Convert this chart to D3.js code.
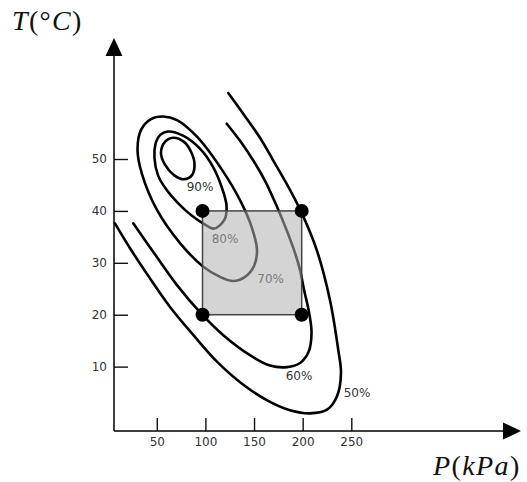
<!DOCTYPE html>
<html>
<head>
<meta charset="utf-8">
<script src="https://cdn.jsdelivr.net/npm/d3@7"></script>
<style>
  html, body { margin: 0; padding: 0; background: #fff; }
  svg { display: block; }
</style>
</head>
<body>
<svg id="chart" width="527" height="482"></svg>
<script>
// Efficiency contours over pressure P (kPa) and temperature T (°C).
const levels = ["90%", "80%", "70%", "60%", "50%"];
const closed = [true, true, true, false, false];

// Outline of each contour as [P, T] pairs
const contour90 = [[66.7,54.1],[78.0,53.3],[85.2,51.4],[88.8,49.0],[86.2,46.9],[78.0,46.1],[67.7,46.9],[58.4,48.9],[54.3,51.2],[58.4,53.3]];
const contour80 = [[61.5,55.3],[77.0,54.5],[94.4,52.0],[107.8,48.5],[117.1,44.4],[121.7,41.0],[119.6,38.3],[108.8,36.6],[97.5,37.6],[85.2,39.2],[71.8,41.5],[59.5,44.2],[51.2,46.9],[47.6,50.2],[48.7,52.9],[53.3,54.6]];
const contour70 = [[56.4,58.2],[70.8,57.5],[91.3,54.3],[117.1,47.9],[136.6,41.7],[147.9,36.7],[153.0,32.5],[150.0,29.4],[140.7,27.3],[128.4,26.5],[115.0,27.3],[97.5,29.3],[73.9,33.8],[50.2,40.2],[34.8,47.1],[30.2,51.7],[33.8,55.6],[44.0,57.7]];
const contour60 = [[121.9,56.8],[135.6,53.5],[148.9,49.8],[161.3,45.8],[173.6,40.8],[183.9,36.1],[192.1,31.9],[197.3,28.6],[201.4,24.8],[206.5,20.5],[209.1,16.5],[206.0,12.8],[197.3,10.7],[183.9,9.9],[166.4,10.2],[145.8,12.2],[118.1,16.1],[96.2,20.1],[70.8,25.7],[46.4,32.1],[25.8,37.6]];
const contour50 = [[123.5,62.7],[139.7,58.5],[156.1,54.1],[169.5,49.8],[183.6,45.2],[198.0,40.0],[214.4,32.5],[228.1,22.8],[236.6,13.2],[239.4,8.8],[235.3,4.3],[225.0,1.7],[207.5,1.0],[187.0,1.6],[166.4,3.2],[139.0,6.5],[111.6,11.0],[87.5,16.1],[63.6,21.5],[43.0,27.0],[22.5,32.8],[7.0,37.6]];
const contours = [contour90, contour80, contour70, contour60, contour50];

// Where each level's label sits, as [P, T]
const labelAt = [[94.4,44.6],[120.1,34.5],[167.1,26.9],[196.2,8.2],[255.9,5.0]];

// Operating window (corners marked with dots)
const windowP = [97, 199];
const windowT = [20, 40];

const xTicks = [50, 100, 150, 200, 250];
const yTicks = [10, 20, 30, 40, 50];

const svg = d3.select("#chart");
const font = "'DejaVu Sans', Verdana, sans-serif";

// Origin of the axes sits at (114, 431)
const x = d3.scaleLinear().domain([6, 250]).range([114, 351.3]);
const y = d3.scaleLinear().domain([-2.4, 50]).range([431, 159]);

const x0 = x.range()[0], y0 = y.range()[0];

// Contour lines
const openLine = d3.line().x(d => x(d[0])).y(d => y(d[1])).curve(d3.curveCatmullRom.alpha(0.5));
const closedLine = d3.line().x(d => x(d[0])).y(d => y(d[1])).curve(d3.curveCatmullRomClosed.alpha(0.5));

svg.append("g").selectAll("path")
  .data(contours)
  .join("path")
  .attr("d", (d, i) => closed[i] ? closedLine(d) : openLine(d))
  .attr("fill", "none")
  .attr("stroke", "#000")
  .attr("stroke-width", 2.6)
  .attr("stroke-linecap", "round");

// Level labels
svg.append("g").selectAll("text")
  .data(levels)
  .join("text")
  .attr("x", (d, i) => x(labelAt[i][0]))
  .attr("y", (d, i) => y(labelAt[i][1]))
  .attr("text-anchor", "middle")
  .attr("dominant-baseline", "central")
  .attr("font-family", font)
  .attr("font-size", 12)
  .attr("fill", "#333")
  .text(d => d);

// Translucent operating window over the contours
svg.append("rect")
  .attr("x", x(windowP[0]))
  .attr("y", y(windowT[1]))
  .attr("width", x(windowP[1]) - x(windowP[0]))
  .attr("height", y(windowT[0]) - y(windowT[1]))
  .attr("fill", "#b0b0b0")
  .attr("fill-opacity", 0.55)
  .attr("stroke", "#444")
  .attr("stroke-width", 1.5);

const corners = [];
windowT.forEach(t => windowP.forEach(p => corners.push([p, t])));
svg.append("g").selectAll("circle")
  .data(corners)
  .join("circle")
  .attr("cx", d => x(d[0]))
  .attr("cy", d => y(d[1]))
  .attr("r", 7)
  .attr("fill", "#000");

// Axes: ticks point inward, labels outside
const yAxis = svg.append("g")
  .attr("transform", `translate(${x0},0)`)
  .call(d3.axisLeft(y).tickValues(yTicks).tickSizeInner(-14).tickSizeOuter(0).tickPadding(7));
const xAxis = svg.append("g")
  .attr("transform", `translate(0,${y0})`)
  .call(d3.axisBottom(x).tickValues(xTicks).tickSizeInner(-13).tickSizeOuter(0).tickPadding(6));

[yAxis, xAxis].forEach(g => {
  g.select(".domain").remove();
  g.selectAll(".tick line").attr("stroke", "#111").attr("stroke-width", 1.4);
  g.selectAll(".tick text")
    .attr("font-family", font)
    .attr("font-size", 12)
    .attr("fill", "#333");
});

// Axis lines with arrow heads
const axisColor = "#000";
svg.append("line").attr("x1", x0).attr("y1", y0).attr("x2", x0).attr("y2", 54)
  .attr("stroke", axisColor).attr("stroke-width", 1.5);
svg.append("line").attr("x1", x0).attr("y1", y0).attr("x2", 505).attr("y2", y0)
  .attr("stroke", axisColor).attr("stroke-width", 1.5);
svg.append("path")
  .attr("d", `M${x0},38 L${x0 + 8.5},56 L${x0 - 8.5},56 Z`)
  .attr("fill", axisColor);
svg.append("path")
  .attr("d", `M521,${y0} L503,${y0 - 8.5} L503,${y0 + 8.5} Z`)
  .attr("fill", axisColor);

// Axis titles in math style: italic symbols, upright punctuation
const mathFont = "'Liberation Serif', 'DejaVu Serif', serif";
const tTitle = svg.append("text")
  .attr("x", 12).attr("y", 30)
  .attr("letter-spacing", 1.3)
  .attr("font-family", mathFont).attr("font-size", 28).attr("fill", "#111");
tTitle.append("tspan").attr("font-style", "italic").text("T");
tTitle.append("tspan").text("(°");
tTitle.append("tspan").attr("font-style", "italic").text("C");
tTitle.append("tspan").text(")");

const pTitle = svg.append("text")
  .attr("x", 433).attr("y", 475)
  .attr("letter-spacing", 1.4)
  .attr("font-family", mathFont).attr("font-size", 28).attr("fill", "#111");
pTitle.append("tspan").attr("font-style", "italic").text("P");
pTitle.append("tspan").text("(");
pTitle.append("tspan").attr("font-style", "italic").text("kPa");
pTitle.append("tspan").text(")");
</script>
</body>
</html>
